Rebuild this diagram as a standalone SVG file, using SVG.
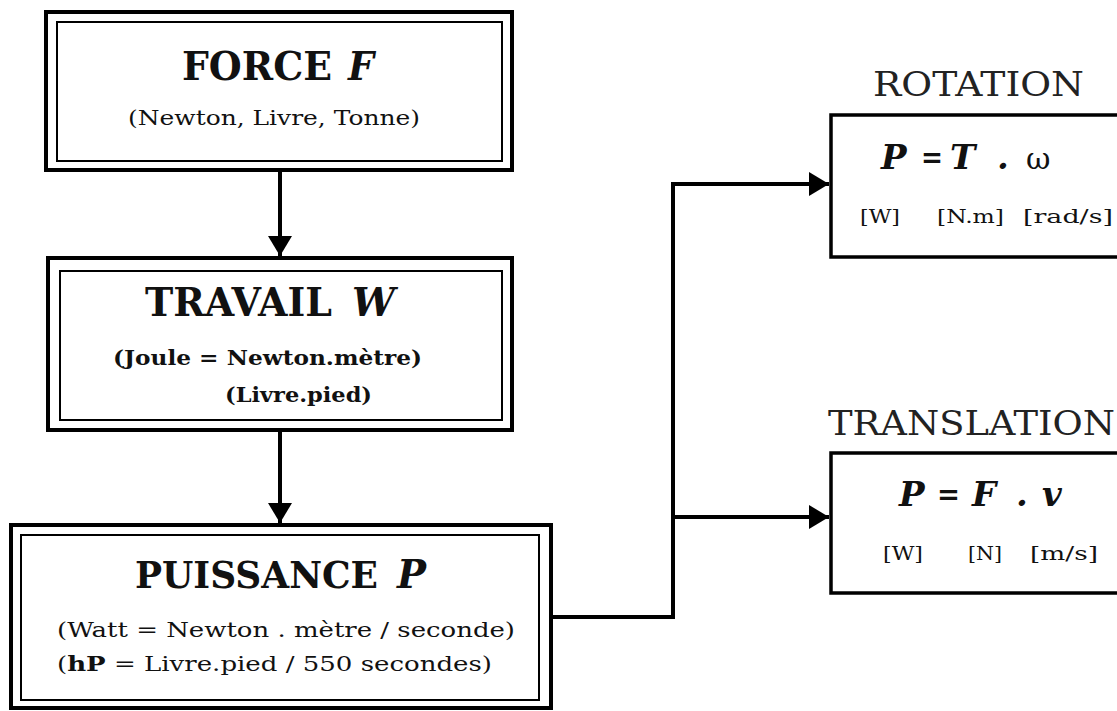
<svg xmlns="http://www.w3.org/2000/svg" width="1117" height="711" viewBox="0 0 1117 711">
<style>
.o{fill:none;stroke:#000;stroke-width:4}
.i{fill:none;stroke:#000;stroke-width:2}
.b{fill:#fff;stroke:#000;stroke-width:3.5}
.t{font-family:"DejaVu Serif","Liberation Serif",serif;font-weight:bold;font-size:40px;fill:#111}
.ti{font-family:"DejaVu Serif","Liberation Serif",serif;font-weight:bold;font-style:italic;font-size:40px;fill:#111}
.s{font-family:"DejaVu Serif","Liberation Serif",serif;font-size:21px;fill:#111}
.sb{font-family:"DejaVu Serif","Liberation Serif",serif;font-size:21px;font-weight:bold;fill:#111}
.l{font-family:"DejaVu Serif","Liberation Serif",serif;font-size:34px;fill:#222}
.f{font-family:"DejaVu Serif","Liberation Serif",serif;font-size:34px;font-weight:bold;font-style:italic;fill:#111}
.eq{font-family:"DejaVu Serif","Liberation Serif",serif;font-size:30px;font-weight:bold;fill:#111}
.fr{font-family:"DejaVu Serif","Liberation Serif",serif;font-size:30px;fill:#111}
.u{font-family:"DejaVu Serif","Liberation Serif",serif;font-size:18px;fill:#111}
.c{fill:none;stroke:#000;stroke-width:4}
</style>
<defs>
<marker id="ah" markerWidth="6" markerHeight="6" refX="5" refY="3" orient="auto" markerUnits="strokeWidth">
<path d="M0,0 L5,3 L0,6 Z" fill="#000"/>
</marker>
</defs>
<rect width="1117" height="711" fill="#fff"/>
<g id="connectors">
<path class="c" d="M280,172 V256" marker-end="url(#ah)"/>
<path class="c" d="M280,432 V523" marker-end="url(#ah)"/>
<path class="c" d="M551,617 H673 V184 H829" marker-end="url(#ah)"/>
<path class="c" d="M673,517 H829" marker-end="url(#ah)"/>
</g>
<g id="force">
<rect class="o" x="46" y="12" width="466" height="158"/>
<rect class="i" x="57" y="22" width="445" height="139"/>
<text class="t" x="182" y="80" textLength="150" lengthAdjust="spacingAndGlyphs">FORCE</text>
<text class="ti" x="348" y="80" textLength="26" lengthAdjust="spacingAndGlyphs">F</text>
<text class="s" x="128" y="125" textLength="292" lengthAdjust="spacingAndGlyphs">(Newton, Livre, Tonne)</text>
</g>
<g id="travail">
<rect class="o" x="48" y="258" width="464" height="172"/>
<rect class="i" x="60" y="271" width="442" height="149"/>
<text class="t" x="145" y="316" textLength="187" lengthAdjust="spacingAndGlyphs">TRAVAIL</text>
<text class="ti" x="352" y="316" textLength="43" lengthAdjust="spacingAndGlyphs">W</text>
<text class="sb" x="113" y="365" textLength="309" lengthAdjust="spacingAndGlyphs">(Joule = Newton.mètre)</text>
<text class="sb" x="225" y="402" textLength="147" lengthAdjust="spacingAndGlyphs">(Livre.pied)</text>
</g>
<g id="puissance">
<rect class="o" x="11" y="525" width="540" height="183"/>
<rect class="i" x="21" y="535" width="518" height="165"/>
<text class="t" x="135" y="588" style="font-size:37px" textLength="243" lengthAdjust="spacingAndGlyphs">PUISSANCE</text>
<text class="ti" x="397" y="588" textLength="29" lengthAdjust="spacingAndGlyphs">P</text>
<text class="s" x="57" y="637" textLength="458" lengthAdjust="spacingAndGlyphs">(Watt = Newton . mètre / seconde)</text>
<text class="s" x="57" y="671" textLength="435" lengthAdjust="spacingAndGlyphs">(<tspan font-weight="bold">hP</tspan> = Livre.pied / 550 secondes)</text>
</g>
<g id="rotation">
<text class="l" x="873" y="96" textLength="211" lengthAdjust="spacingAndGlyphs">ROTATION</text>
<rect class="b" x="831" y="115" width="290" height="142"/>
<text class="f" x="881" y="169">P</text>
<text class="eq" x="921" y="167" textLength="22" lengthAdjust="spacingAndGlyphs">=</text>
<text class="f" x="950" y="169">T</text>
<text class="f" x="997" y="169">.</text>
<text class="fr" x="1026" y="169">ω</text>
<text class="u" x="860" y="223" textLength="40" lengthAdjust="spacingAndGlyphs">[W]</text>
<text class="u" x="937" y="223" textLength="67" lengthAdjust="spacingAndGlyphs">[N.m]</text>
<text class="u" x="1023" y="223" textLength="90" lengthAdjust="spacingAndGlyphs">[rad/s]</text>
</g>
<g id="translation">
<text class="l" x="828" y="435" textLength="287" lengthAdjust="spacingAndGlyphs">TRANSLATION</text>
<rect class="b" x="831" y="453" width="290" height="140"/>
<text class="f" x="899" y="506">P</text>
<text class="eq" x="937" y="504" textLength="23" lengthAdjust="spacingAndGlyphs">=</text>
<text class="f" x="972" y="506">F</text>
<text class="f" x="1016" y="506">.</text>
<text class="f" x="1042" y="506">v</text>
<text class="u" x="883" y="560" textLength="40" lengthAdjust="spacingAndGlyphs">[W]</text>
<text class="u" x="968" y="560" textLength="34" lengthAdjust="spacingAndGlyphs">[N]</text>
<text class="u" x="1030" y="560" textLength="68" lengthAdjust="spacingAndGlyphs">[m/s]</text>
</g>
</svg>
